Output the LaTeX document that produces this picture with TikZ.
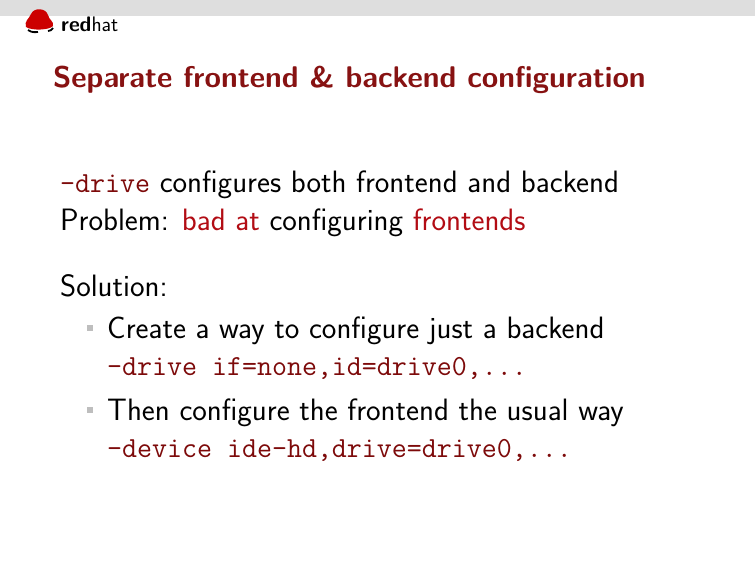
\documentclass[tikz,border=0pt]{standalone}
\usepackage{fontspec}
\usetikzlibrary{positioning}
\definecolor{titlered}{RGB}{135,18,18}
\definecolor{alertred}{RGB}{178,12,20}
\definecolor{codered}{RGB}{125,10,10}
\definecolor{hatred}{RGB}{204,0,0}
\definecolor{bargray}{RGB}{222,222,222}
\definecolor{bulletgray}{RGB}{190,190,190}
\newcommand{\cmd}[1]{{\color{codered}\ttfamily\fontsize{29.1}{37}\selectfont #1}}
\begin{document}
\begin{tikzpicture}[x=1pt,y=-1pt,
	line/.style={anchor=base west,inner sep=0pt,font=\sffamily\fontsize{30.9}{37}\selectfont},
	sub/.style={line},
	bul/.style={fill=bulletgray,minimum size=6pt,inner sep=0pt}]
	\useasboundingbox[fill=white] (0,0) rectangle (755,566);
	\fill[bargray] (0,0) rectangle (755,16);
	% logo
	\fill[hatred] (26,27) .. controls (24,21) and (29,19) .. (31,14) .. controls (34,7) and (46,8) .. (48,15)
		.. controls (49,20) and (54,21) .. (53,26) .. controls (50,30) and (32,31) .. (26,27) -- cycle;
	\draw[line width=1.8pt] (28,30) .. controls (32,33) and (36,32) .. (38,32);
	\draw[line width=1.8pt] (48,31) .. controls (50,31) and (52,30) .. (53,28);
	\node[anchor=base west,inner sep=0pt,font=\sffamily\fontsize{21}{22}\selectfont] (logo) at (61,31) {\textbf{red}hat};
	% title
	\node[anchor=base west,inner sep=0pt,font=\sffamily\bfseries\fontsize{29.9}{34}\selectfont,text=titlered] (title) at (53,87)
		{Separate frontend \& backend configuration};
	% body
	\node[line] (l1) at (60,192) {\cmd{-drive} configures both frontend and backend};
	\node[line] (l2) at (60,230) {Problem: \textcolor{alertred}{bad at} configuring \textcolor{alertred}{frontends}};
	\node[line] (sol) at (60,296) {Solution:};
	\node[sub] (s1) at (107,338) {Create a way to configure just a backend};
	\node[sub] (c1) at (107,375) {\cmd{-drive if=none,id=drive0,...}};
	\node[sub] (s2) at (107,420) {Then configure the frontend the usual way};
	\node[sub] (c2) at (107,457) {\cmd{-device ide-hd,drive=drive0,...}};
	\node[bul] (b1) at (89.5,328) {};
	\node[bul] (b2) at (89.5,410) {};
\end{tikzpicture}
\end{document}
